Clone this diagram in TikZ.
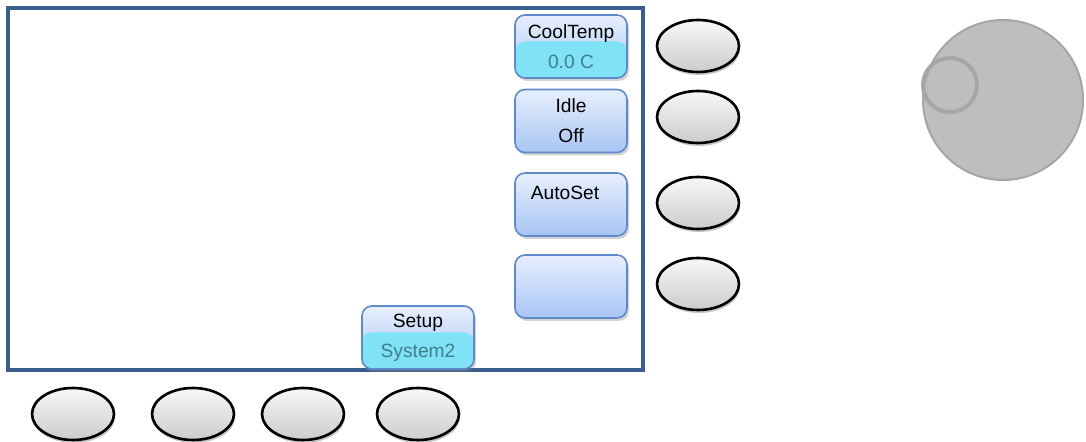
\documentclass[tikz,border=0pt]{standalone}
\usepackage{fontspec}
\setmainfont{Liberation Sans}
\usetikzlibrary{shapes.geometric,shadows}

\definecolor{frameblue}{HTML}{3A5F8F}
\definecolor{keyedge}{HTML}{5F89C8}
\definecolor{keytop}{HTML}{E8EFFD}
\definecolor{keybot}{HTML}{A7C5F4}
\definecolor{valcyan}{HTML}{80E2F7}
\definecolor{valtext}{HTML}{3F7F8C}
\definecolor{knobfill}{HTML}{BEBEBE}
\definecolor{knobedge}{HTML}{A6A6A6}

\begin{document}
\begin{tikzpicture}[x=0.5pt,y=-0.5pt,
    softkey/.style={draw=keyedge, line width=0.8pt, rounded corners=5pt,
      top color=keytop, bottom color=keybot,
      minimum width=56pt, minimum height=31.5pt, inner sep=0pt,
      drop shadow={shadow xshift=1pt, shadow yshift=-1.5pt, opacity=0.35},
      font=\fontsize{9.6}{11.5}\selectfont, align=center},
    valkey/.style={softkey, path picture={
      \fill[valcyan] ([yshift=2.5pt]path picture bounding box.west) rectangle (path picture bounding box.south east);}},
    keytext/.style={font=\fontsize{9.6}{11.5}\selectfont, inner sep=0pt},
    hardkey/.style={ellipse, draw=black, line width=1.3pt,
      top color=gray!6, bottom color=gray!40,
      minimum width=41pt, minimum height=26pt,
      drop shadow={shadow xshift=0.5pt, shadow yshift=-1.5pt, opacity=0.45}},
  ]
  \useasboundingbox (0,0) rectangle (1086,442);

  % display
  \draw[frameblue, line width=1.6pt] (8,8) rectangle (643,370);

  % soft keys on the display
  \node[valkey] (cool) at (571,46.5) {CoolTemp\\[3.5pt]\textcolor{valtext}{0.0 C}};
  \node[softkey] (idle) at (571,121) {Idle\\[3.5pt]Off};
  \node[softkey] (auto) at (571,204.5) {};
  \node[keytext] (autotxt) at (565,193) {AutoSet};
  \node[softkey] (blank) at (571,286.5) {};
  \node[valkey] (setup) at (418,337.5) {Setup\\[3.5pt]\textcolor{valtext}{System2}};

  % hard keys
  \node[hardkey] (r1) at (698,46) {};
  \node[hardkey] (r2) at (698,117) {};
  \node[hardkey] (r3) at (698,203) {};
  \node[hardkey] (r4) at (698,284) {};
  \node[hardkey] (b1) at (73,414) {};
  \node[hardkey] (b2) at (193,414) {};
  \node[hardkey] (b3) at (303,414) {};
  \node[hardkey] (b4) at (418,414) {};

  % knob
  \node[circle, fill=knobfill, draw=knobedge, line width=1pt, minimum size=80pt] (knob) at (1003,100) {};
  \node[circle, draw=knobedge, line width=2pt, minimum size=27pt] (grip) at (950,85) {};
\end{tikzpicture}
\end{document}
